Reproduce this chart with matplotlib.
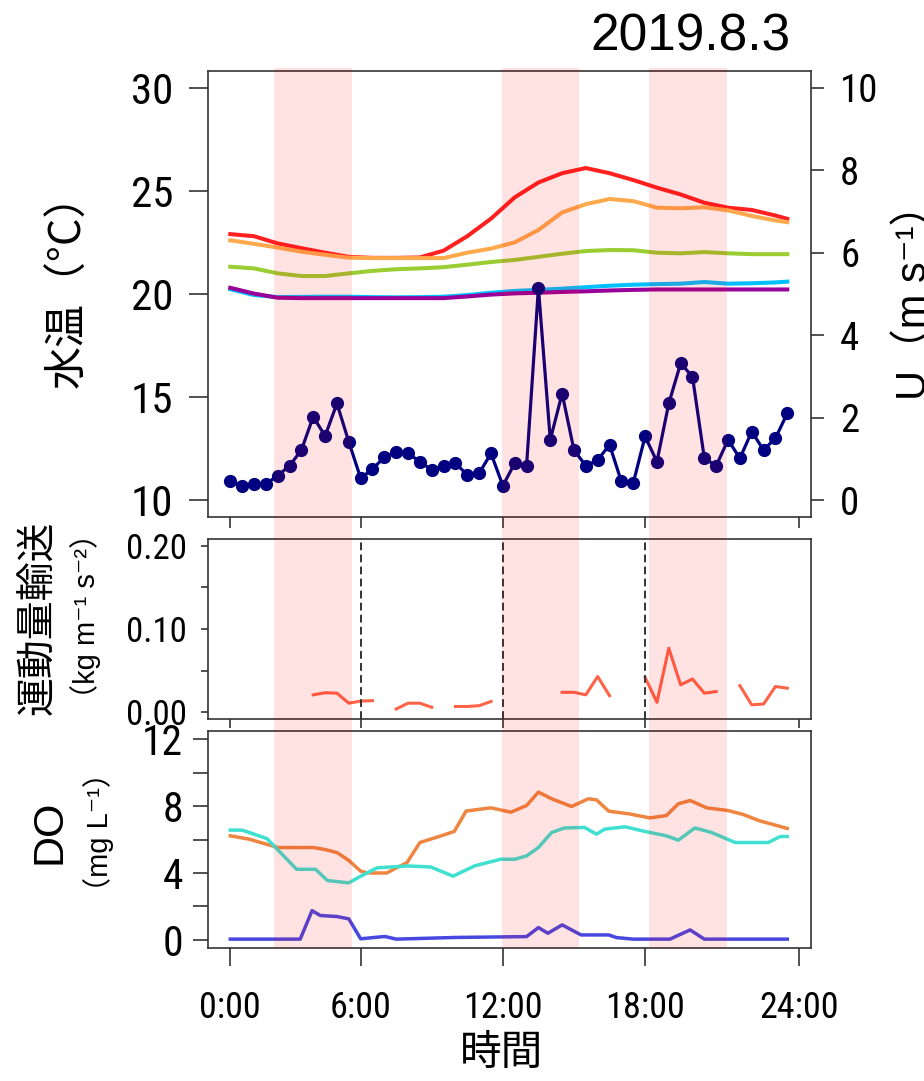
import numpy as np
import matplotlib
matplotlib.use('Agg')
import matplotlib.pyplot as plt

# police étroite pour les graduations
plt.rcParams['font.family'] = ['Roboto Condensed', 'Liberation Sans', 'Noto Sans CJK JP', 'DejaVu Sans']

# %% Données

# temps en heures ; graduations placées comme sur l'original
xticks_h = [0, 5.5, 11.5, 17.5, 24]
xtick_labels = ['0:00', '6:00', '12:00', '18:00', '24:00']
shade_h = [(1.85, 5.12), (11.45, 14.72), (17.68, 20.95)]
vlines_h = [5.5, 11.5, 17.5]

# température de l'eau (°C), valeurs horaires
temp_h = [0, 1, 2, 3, 4, 5, 6, 7, 8, 9, 10, 11, 12, 13, 14, 15, 16, 17, 18, 19, 20, 21, 22, 23, 23.5]
temp_red = [22.9, 22.8, 22.45, 22.22, 22.0, 21.8, 21.75, 21.75, 21.77, 22.1, 22.8, 23.65, 24.68,
            25.4, 25.85, 26.1, 25.85, 25.52, 25.15, 24.82, 24.42, 24.18, 24.07, 23.8, 23.64]
temp_orange = [22.6, 22.43, 22.25, 22.05, 21.9, 21.76, 21.74, 21.74, 21.74, 21.74, 22.0, 22.2, 22.5,
               23.1, 23.95, 24.35, 24.6, 24.5, 24.18, 24.15, 24.2, 24.05, 23.78, 23.56, 23.48]
temp_green = [21.32, 21.24, 21.0, 20.87, 20.87, 21.0, 21.12, 21.2, 21.24, 21.3, 21.42, 21.55, 21.65,
              21.8, 21.95, 22.08, 22.13, 22.12, 22.0, 21.97, 22.03, 21.97, 21.93, 21.93, 21.93]
temp_blue = [20.23, 19.95, 19.85, 19.86, 19.87, 19.87, 19.85, 19.84, 19.85, 19.87, 19.95, 20.06, 20.15,
             20.2, 20.26, 20.33, 20.4, 20.45, 20.48, 20.5, 20.58, 20.5, 20.52, 20.56, 20.6]
temp_purple = [20.3, 20.02, 19.82, 19.8, 19.8, 19.8, 19.8, 19.8, 19.8, 19.8, 19.88, 19.97, 20.03,
               20.06, 20.1, 20.13, 20.17, 20.2, 20.22, 20.22, 20.22, 20.22, 20.22, 20.22, 20.22]

# vent U (m/s), toutes les 30 min
wind_h = np.arange(48) * 0.5
wind = [0.46, 0.36, 0.40, 0.40, 0.60, 0.84, 1.22, 2.03, 1.56, 2.35,
        1.42, 0.54, 0.76, 1.05, 1.18, 1.14, 0.94, 0.74, 0.84, 0.90,
        0.62, 0.66, 1.14, 0.36, 0.90, 0.84, 5.15, 1.47, 2.59, 1.22,
        0.84, 0.98, 1.35, 0.46, 0.42, 1.55, 0.94, 2.35, 3.32, 3.00,
        1.02, 0.84, 1.47, 1.02, 1.67, 1.22, 1.51, 2.11]

# transport de quantité de mouvement (kg m-1 s-2), nan = pas de donnée
nan = np.nan
flux = [nan, nan, nan, nan, nan, nan, nan, 0.021, 0.0235, 0.023,
        0.011, 0.0135, 0.014, nan, 0.004, 0.011, 0.011, 0.006, nan, 0.007,
        0.007, 0.008, 0.013, nan, nan, nan, nan, nan, 0.024, 0.024,
        0.021, 0.043, 0.020, nan, nan, 0.042, 0.012, 0.077, 0.033, 0.040,
        0.023, 0.025, nan, 0.032, 0.009, 0.010, 0.031, 0.029]

# oxygène dissous (mg/L)
do_orange_h = [0, 0.8, 2.0, 3.5, 4.0, 4.5, 5.0, 5.5, 5.8, 6.6, 7.0, 7.45, 8.0, 8.9, 9.45, 9.95, 11.0,
               11.84, 12.5, 13.0, 13.56, 14.4, 15.1, 15.45, 15.97, 16.83, 17.7, 18.4, 18.9, 19.4, 20.1,
               21.0, 21.65, 22.3, 23.5]
do_orange = [6.22, 6.02, 5.52, 5.52, 5.4, 5.22, 4.75, 4.11, 4.0, 4.0, 4.3, 4.61, 5.82, 6.22, 6.48, 7.7,
             7.89, 7.63, 8.03, 8.83, 8.43, 7.97, 8.43, 8.37, 7.69, 7.53, 7.29, 7.43, 8.13, 8.33, 7.89,
             7.73, 7.49, 7.13, 6.66]
do_turq_h = [0, 0.5, 1.0, 1.55, 2.8, 3.6, 4.1, 5.0, 5.5, 6.2, 7.5, 8.45, 9.4, 10.3, 11.4, 12.0, 12.5,
             13.0, 13.56, 14.1, 14.94, 15.45, 15.8, 16.66, 17.5, 18.4, 18.9, 19.6, 20.3, 21.3, 22.7,
             23.2, 23.5]
do_turq = [6.56, 6.56, 6.32, 6.05, 4.22, 4.22, 3.55, 3.41, 3.81, 4.31, 4.42, 4.36, 3.81, 4.42, 4.82,
           4.82, 5.02, 5.52, 6.42, 6.69, 6.72, 6.32, 6.62, 6.76, 6.48, 6.22, 5.96, 6.69, 6.42, 5.82,
           5.82, 6.18, 6.18]
do_blue_h = [0, 2.95, 3.45, 3.8, 4.5, 5.0, 5.5, 6.45, 6.55, 7.0, 9.5, 12.5, 13.0, 13.4, 14.0, 14.8,
             15.97, 16.3, 17.0, 18.55, 19.4, 20.0, 23.5]
do_blue = [0.05, 0.05, 1.75, 1.46, 1.4, 1.26, 0.07, 0.2, 0.2, 0.05, 0.15, 0.2, 0.74, 0.4, 0.9, 0.3,
           0.3, 0.14, 0.05, 0.05, 0.6, 0.05, 0.05]

# %% Mise en page (pixels de l'image 924x1081)

W, H = 924, 1081
L, R = 208, 811
XLIM = (-0.94, 24.5)
FRAME = '#333333'
CJK = ['Noto Sans CJK JP', 'DejaVu Sans']
LAT = ['Liberation Sans', 'Noto Sans CJK JP', 'DejaVu Sans']


def box(top, bottom):
    return [L / W, 1 - bottom / H, (R - L) / W, (bottom - top) / H]


def fig_xy(x, y):
    return x / W, 1 - y / H


def style_frame(ax):
    for sp in ax.spines.values():
        sp.set_color(FRAME)
        sp.set_linewidth(1.2)


fig = plt.figure(figsize=(9.24, 10.81), dpi=100)

# %% Température + vent

ax1 = fig.add_axes(box(71, 517))
ax1.plot(temp_h, temp_red, color='#FF2020', lw=2.9)
ax1.plot(temp_h, temp_orange, color='#FFA94D', lw=2.9)
ax1.plot(temp_h, temp_green, color='#9ACD32', lw=2.9)
ax1.plot(temp_h, temp_blue, color='#00BFFF', lw=2.9)
ax1.plot(temp_h, temp_purple, color='#990099', lw=2.9)
ax1.set_xlim(XLIM)
ax1.set_ylim(9.2, 30.8)
ax1.set_yticks([10, 15, 20, 25, 30])
ax1.set_xticks(xticks_h)
ax1.set_xticklabels([])
ax1.tick_params(axis='y', direction='out', length=14, width=1.2, color=FRAME, pad=11, labelsize=31)
ax1.tick_params(axis='x', direction='out', length=8, width=1.2, color=FRAME)
style_frame(ax1)

ax1u = ax1.twinx()
ax1u.plot(wind_h, wind, '-o', color='#000080', lw=2.3, ms=8.5)
ax1u.set_ylim(-0.4, 10.4)
ax1u.set_yticks([0, 2, 4, 6, 8, 10])
ax1u.tick_params(axis='y', direction='out', length=9, width=1.2, color=FRAME, pad=12, labelsize=28)
for sp in ax1u.spines.values():
    sp.set_visible(False)

# %% Transport de quantité de mouvement

ax2 = fig.add_axes(box(539, 719))
ax2.plot(wind_h, flux, color='#FF6347', lw=2.2)
for v in vlines_h:
    ax2.axvline(v, color=FRAME, lw=1.4, ls=(0, (4, 2.2)))
ax2.set_xlim(XLIM)
ax2.set_ylim(-0.008, 0.208)
ax2.set_yticks([0, 0.05, 0.10, 0.15, 0.20])
ax2.set_yticklabels(['0.00', '', '0.10', '', '0.20'])
ax2.set_xticks(xticks_h)
ax2.set_xticklabels([])
ax2.tick_params(axis='y', direction='out', length=5, width=1.2, color=FRAME, pad=10, labelsize=25)
ax2.tick_params(axis='x', direction='out', length=6.5, width=1.2, color=FRAME)
style_frame(ax2)

# %% DO

ax3 = fig.add_axes(box(731, 948))
ax3.plot(do_orange_h, do_orange, color='#EE8540', lw=2.5)
ax3.plot(do_turq_h, do_turq, color='#40E0D0', lw=2.5)
ax3.plot(do_blue_h, do_blue, color='#4848E0', lw=2.5)
ax3.set_xlim(XLIM)
ax3.set_ylim(-0.48, 12.48)
ax3.set_yticks([0, 2, 4, 6, 8, 10, 12])
ax3.set_yticklabels(['0', '', '4', '', '8', '', '12'])
ax3.set_xticks(xticks_h)
ax3.set_xticklabels(xtick_labels)
ax3.tick_params(axis='y', direction='out', length=11, width=1.2, color=FRAME, pad=7, labelsize=30)
ax3.tick_params(axis='x', direction='out', length=13, width=1.2, color=FRAME, pad=17, labelsize=26)
style_frame(ax3)

# %% Bandes roses par-dessus les courbes

ov = fig.add_axes(box(68, 948), zorder=10)
ov.set_xlim(XLIM)
ov.set_ylim(0, 1)
ov.axis('off')
for a, b in shade_h:
    ov.axvspan(a, b, color='red', alpha=0.11, lw=0)

# %% Textes

fig.text(*fig_xy(690, 37), '2019.8.3', fontsize=37, family=LAT, ha='center', va='center')
fig.text(*fig_xy(69, 280), '水温（°C）', fontsize=31, family=CJK, rotation=90, ha='center', va='center')
fig.text(*fig_xy(895, 292), 'U（m s⁻¹）', fontsize=30, family=LAT, rotation=90, ha='left', va='center')
fig.text(*fig_xy(38, 618), '運動量輸送', fontsize=28, family=CJK, rotation=90, ha='center', va='center')
fig.text(*fig_xy(86, 616), '（kg m⁻¹ s⁻²）', fontsize=21, family=LAT, rotation=90, ha='center', va='center')
fig.text(*fig_xy(49, 832), 'DO', fontsize=31, family=LAT, rotation=90, ha='center', va='center')
fig.text(*fig_xy(99, 832), '（mg L⁻¹）', fontsize=21, family=LAT, rotation=90, ha='center', va='center')
fig.text(*fig_xy(501, 1053), '時間', fontsize=30, family=CJK, ha='center', va='center')

fig.savefig('out.png', dpi=100)
